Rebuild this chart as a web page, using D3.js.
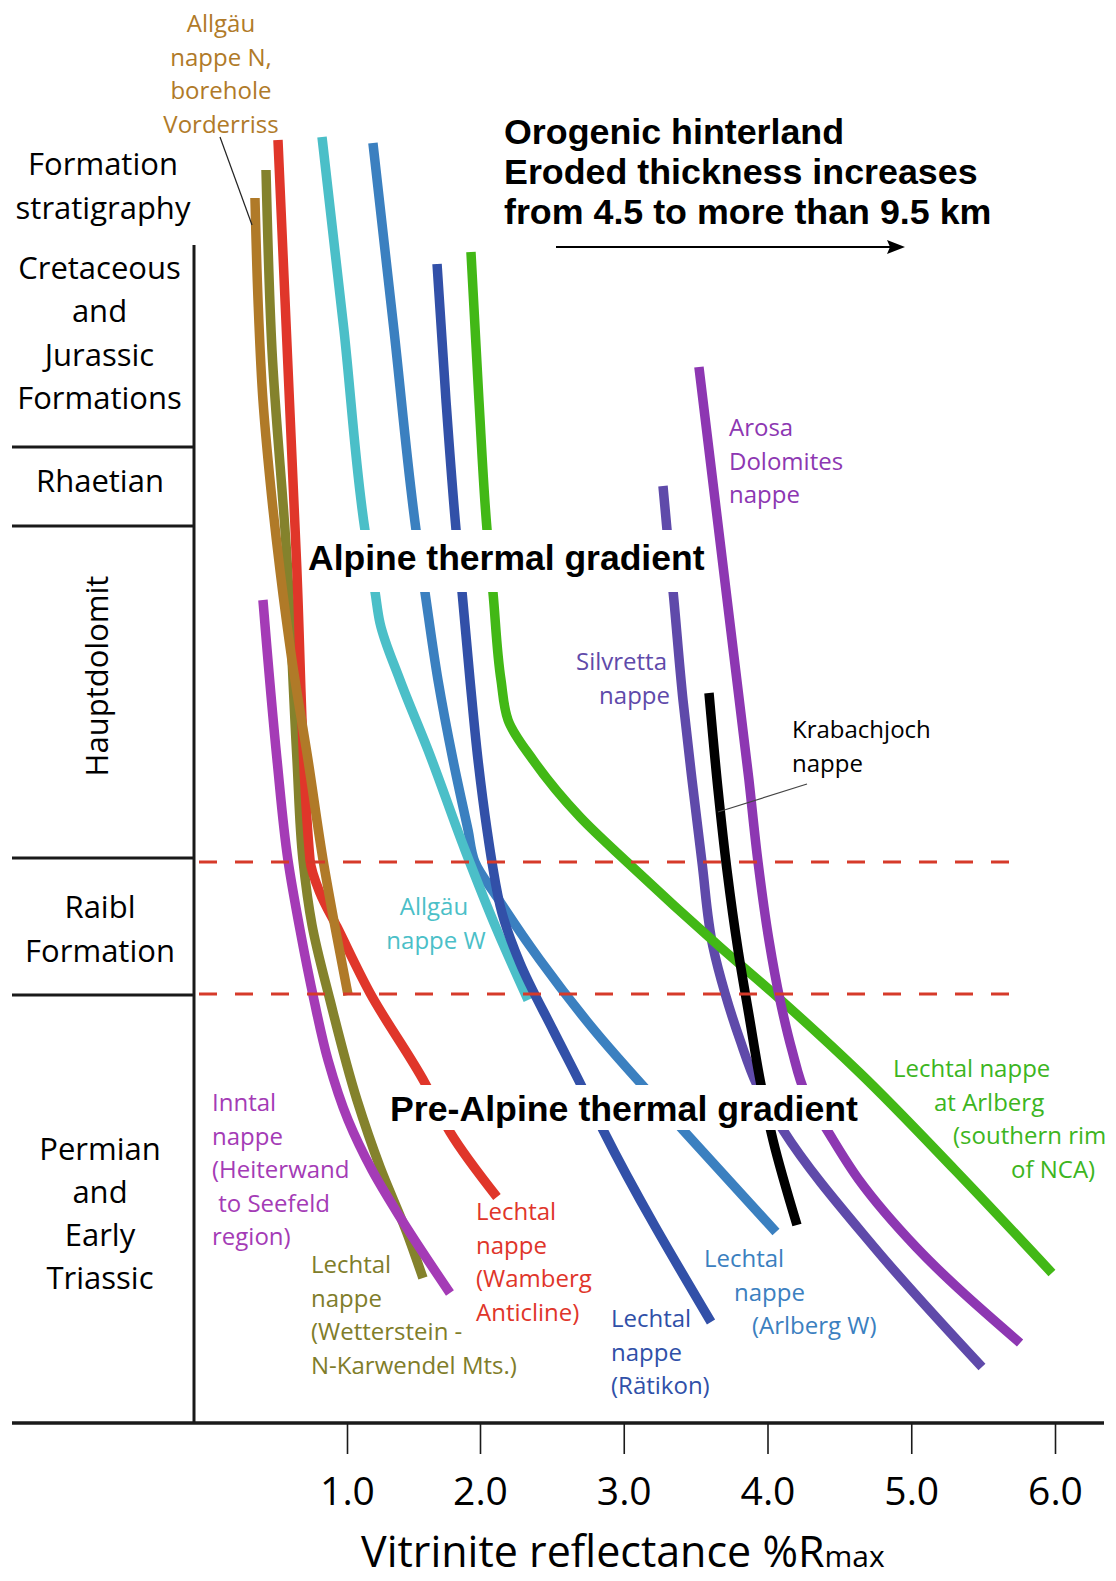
<!DOCTYPE html>
<html><head><meta charset="utf-8">
<script src="https://cdn.jsdelivr.net/npm/d3@7/dist/d3.min.js"></script>
<style>
html,body{margin:0;padding:0;background:#fff;}
svg{display:block;}
</style></head><body>
<svg id="chart" width="1116" height="1581"></svg>
<script>
// ---------- DATA ----------
const xTickValues = [1, 2, 3, 4, 5, 6];
const xTickLabels = ["1.0", "2.0", "3.0", "4.0", "5.0", "6.0"];

// Relative stratigraphic depth (arbitrary units, 0 = top of figure)
const formationNames = ["Cretaceous and Jurassic Formations", "Rhaetian", "Hauptdolomit", "Raibl Formation", "Permian and Early Triassic"];
const formationTops = [135, 337, 416, 748, 885];
const formationBase = 1313;
const raiblDashedDepths = [752, 884];

// Vitrinite reflectance profiles: Rmax (%) and depth
const vorderrissR = [0.308, 0.331, 0.368, 0.421, 0.496, 0.586, 0.707, 0.820, 0.910, 1.008];
const vorderrissD = [88, 190, 290, 370, 460, 550, 650, 750, 817, 885];

const wettersteinR = [0.391, 0.436, 0.549, 0.624, 0.669, 0.737, 0.872, 1.075, 1.248, 1.451, 1.571];
const wettersteinD = [60, 240, 450, 650, 750, 815, 890, 990, 1057, 1123, 1168];

const wambergR = [0.481, 0.620, 0.722, 0.797, 0.925, 1.173, 1.586, 1.774, 2.118];
const wambergD = [30, 450, 750, 783, 817, 883, 973, 1022, 1087];

const inntalR = [0.368, 0.474, 0.556, 0.647, 0.752, 0.857, 1.008, 1.188, 1.398, 1.774];
const inntalD = [490, 650, 750, 820, 890, 950, 1010, 1060, 1107, 1183];

const allgaeuWR = [0.812, 0.977, 1.135, 1.211, 1.248, 1.398, 1.609, 1.887, 2.118, 2.334];
const allgaeuWD = [27, 220, 420, 482, 513, 570, 640, 740, 820, 890];

const arlbergWR = [1.195, 1.353, 1.519, 1.586, 1.684, 1.797, 1.910, 1.962, 2.118, 2.417, 2.765, 3.412, 4.059];
const arlbergWD = [33, 220, 420, 482, 570, 650, 720, 752, 787, 850, 915, 1020, 1122];

const raetikonR = [1.677, 1.744, 1.820, 1.865, 1.925, 1.985, 2.049, 2.083, 2.153, 2.278, 2.508, 2.710, 2.856, 3.607];
const raetikonD = [154, 290, 420, 482, 570, 650, 720, 752, 803, 853, 920, 977, 1020, 1212];

const arlbergR = [1.932, 1.992, 2.049, 2.090, 2.146, 2.195, 2.369, 2.696, 3.030, 3.670, 4.038, 4.643, 5.304, 5.979];
const arlbergD = [142, 290, 420, 482, 570, 610, 650, 707, 753, 837, 883, 963, 1060, 1163];

const silvrettaR = [3.273, 3.301, 3.343, 3.412, 3.475, 3.544, 3.621, 3.704, 3.809, 3.927, 4.108, 4.741, 5.492];
const silvrettaD = [376, 420, 481, 590, 670, 752, 837, 883, 930, 975, 1020, 1137, 1257];

const krabachjochR = [3.593, 3.656, 3.718, 3.795, 3.871, 3.955, 4.038, 4.205];
const krabachjochD = [583, 680, 760, 840, 905, 975, 1030, 1115];

const arosaR = [3.523, 3.871, 3.934, 4.010, 4.087, 4.170, 4.268, 4.414, 4.637, 5.033, 5.757];
const arosaD = [257, 670, 752, 830, 890, 940, 985, 1020, 1070, 1137, 1233];

// ---------- SETUP ----------
const svg = d3.select("#chart");
const x = d3.scaleLinear().domain([1, 2, 6]).range([347, 480, 1055]);
const y = d3.scaleLinear().domain([0, 1300]).range([110, 1410]);
const axisX0 = 194;
const leftX = 12;
const sansFont = '"Open Sans", "Noto Sans", sans-serif';
const boldFont = '"Liberation Sans", Arial, sans-serif';

const series = [
  {R: wettersteinR, D: wettersteinD, color: "#84822c"},
  {R: wambergR, D: wambergD, color: "#e0362a"},
  {R: inntalR, D: inntalD, color: "#a43bb6"},
  {R: vorderrissR, D: vorderrissD, color: "#b07a28"},
  {R: arlbergWR, D: arlbergWD, color: "#3b80c0"},
  {R: allgaeuWR, D: allgaeuWD, color: "#4bbfc8"},
  {R: raetikonR, D: raetikonD, color: "#3250a8"},
  {R: silvrettaR, D: silvrettaD, color: "#5f4aaa"},
  {R: arlbergR, D: arlbergD, color: "#42b816"},
  {R: krabachjochR, D: krabachjochD, color: "#000000"},
  {R: arosaR, D: arosaD, color: "#8d37b2"}
];

const line = d3.line().x(d => x(d[0])).y(d => y(d[1])).curve(d3.curveMonotoneY);

const gCurves = svg.append("g");
series.forEach(s => {
  const pts = s.R.map((r, i) => [r, s.D[i]]);
  gCurves.append("path").attr("d", line(pts))
    .attr("fill", "none").attr("stroke", s.color)
    .attr("stroke-width", 9.5).attr("stroke-linecap", "butt");
});

// dashed Raibl lines
raiblDashedDepths.forEach(d => {
  svg.append("line").attr("x1", axisX0 + 5).attr("x2", 1010)
    .attr("y1", y(d)).attr("y2", y(d))
    .attr("stroke", "#d63a2a").attr("stroke-width", 3.2)
    .attr("stroke-dasharray", "18,18");
});

// ---------- FRAME / AXES ----------
const frame = svg.append("g").attr("stroke", "#1a1a1a");
frame.append("line").attr("x1", axisX0).attr("x2", axisX0)
  .attr("y1", y(formationTops[0])).attr("y2", y(formationBase)).attr("stroke-width", 3);
formationTops.slice(1).forEach(d => {
  frame.append("line").attr("x1", leftX).attr("x2", axisX0 + 1)
    .attr("y1", y(d)).attr("y2", y(d)).attr("stroke-width", 3);
});

const xAxis = d3.axisBottom(x).tickValues(xTickValues)
  .tickFormat((d, i) => xTickLabels[i]).tickSize(31).tickPadding(14);
const gx = svg.append("g").attr("transform", `translate(0,${y(formationBase)})`).call(xAxis);
gx.select(".domain").remove();
gx.selectAll(".tick line").attr("stroke", "#1a1a1a").attr("stroke-width", 1.6);
gx.selectAll(".tick text").attr("font-family", sansFont).attr("font-size", 39)
  .attr("fill", "#000").attr("dy", null).attr("y", 82);
svg.append("line").attr("x1", leftX).attr("x2", 1104)
  .attr("y1", y(formationBase)).attr("y2", y(formationBase))
  .attr("stroke", "#1a1a1a").attr("stroke-width", 3.5);

const title = svg.append("text").attr("x", 361).attr("y", 1567)
  .attr("font-family", sansFont).attr("font-size", 43).attr("fill", "#000");
title.append("tspan").text("Vitrinite reflectance %R");
title.append("tspan").attr("font-size", 30).text("max");

// ---------- LABEL MASKS ----------
svg.append("rect").attr("x", 303).attr("y", 530).attr("width", 402).attr("height", 62).attr("fill", "#fff");
svg.append("rect").attr("x", 385).attr("y", 1085).attr("width", 477).attr("height", 45).attr("fill", "#fff");

function multi(lines, opts) {
  const lh = opts.lh || 0;
  const t = svg.append("text").attr("font-family", opts.font || sansFont)
    .attr("font-size", opts.size).attr("fill", opts.color)
    .attr("text-anchor", opts.anchor || "start")
    .attr("font-weight", opts.weight || "normal");
  lines.forEach((l, i) => {
    t.append("tspan").attr("x", Array.isArray(opts.x) ? opts.x[i] : opts.x)
      .attr("y", opts.y + i * lh)
      .attr("xml:space", "preserve").text(l);
  });
  return t;
}

// bold annotations
multi(["Alpine thermal gradient"], {x: 308, y: 570, size: 35.5, color: "#000", font: boldFont, weight: "bold"});
multi(["Pre-Alpine thermal gradient"], {x: 390, y: 1121, size: 35.7, color: "#000", font: boldFont, weight: "bold"});
multi(["Orogenic hinterland", "Eroded thickness increases", "from 4.5 to more than 9.5 km"],
  {x: 504, y: 144, lh: 40, size: 35.8, color: "#000", font: boldFont, weight: "bold"});

// arrow
svg.append("line").attr("x1", 556).attr("x2", 892).attr("y1", 247).attr("y2", 247)
  .attr("stroke", "#000").attr("stroke-width", 2.2);
svg.append("path").attr("d", "M905,247 L887,240 L890,247 L887,254 Z").attr("fill", "#000");

// stratigraphy labels
multi(["Formation", "stratigraphy"], {x: 103, y: 175, lh: 43.5, size: 31, color: "#000", anchor: "middle"});
multi(["Cretaceous", "and", "Jurassic", "Formations"], {x: 99.5, y: 279, lh: 43.4, size: 31, color: "#000", anchor: "middle"});
multi(["Rhaetian"], {x: 100, y: 492, size: 31, color: "#000", anchor: "middle"});
svg.append("text").attr("transform", "translate(108,676) rotate(-90)")
  .attr("text-anchor", "middle").attr("font-family", sansFont).attr("font-size", 31)
  .attr("fill", "#000").text("Hauptdolomit");
multi(["Raibl", "Formation"], {x: 100, y: 918, lh: 43.5, size: 31, color: "#000", anchor: "middle"});
multi(["Permian", "and", "Early", "Triassic"], {x: 100, y: 1160, lh: 43, size: 31, color: "#000", anchor: "middle"});

// curve labels
const LS = 24, LH = 33.5;
multi(["Allgäu", "nappe N,", "borehole", "Vorderriss"], {x: 221, y: 32, lh: LH, size: LS, color: "#b07a28", anchor: "middle"});
multi(["Arosa", "Dolomites", "nappe"], {x: 729, y: 436, lh: LH, size: LS, color: "#8d37b2"});
multi(["Silvretta", "nappe"], {x: [667, 670], y: 670, lh: LH, size: LS, color: "#5f4aaa", anchor: "end"});
multi(["Krabachjoch", "nappe"], {x: 792, y: 738, lh: LH, size: LS, color: "#000"});
multi(["Allgäu", "nappe W"], {x: [434, 436], y: 915, lh: LH, size: LS, color: "#4bbfc8", anchor: "middle"});
multi(["Lechtal nappe", "at Arlberg", "(southern rim", "of NCA)"], {x: [893, 934, 953, 1011], y: 1077, lh: LH, size: LS, color: "#3cb521"});
multi(["Inntal", "nappe", "(Heiterwand", " to Seefeld", "region)"], {x: 212, y: 1111, lh: LH, size: LS, color: "#a43bb6"});
multi(["Lechtal", "nappe", "(Wetterstein -", "N-Karwendel Mts.)"], {x: 311, y: 1273, lh: LH, size: LS, color: "#7f7d2a"});
multi(["Lechtal", "nappe", "(Wamberg", "Anticline)"], {x: 476, y: 1220, lh: LH, size: LS, color: "#e0352a"});
multi(["Lechtal", "nappe", "(Rätikon)"], {x: 611, y: 1327, lh: LH, size: LS, color: "#3050a8"});
multi(["Lechtal", "nappe", "(Arlberg W)"], {x: [704, 734, 752], y: 1267, lh: LH, size: LS, color: "#3b80c0"});

// leader lines
svg.append("line").attr("x1", 220).attr("y1", 137).attr("x2", 252).attr("y2", 225)
  .attr("stroke", "#222").attr("stroke-width", 1.2);
svg.append("line").attr("x1", 807).attr("y1", 784).attr("x2", 718).attr("y2", 812)
  .attr("stroke", "#444").attr("stroke-width", 1.2);
</script>
</body></html>
